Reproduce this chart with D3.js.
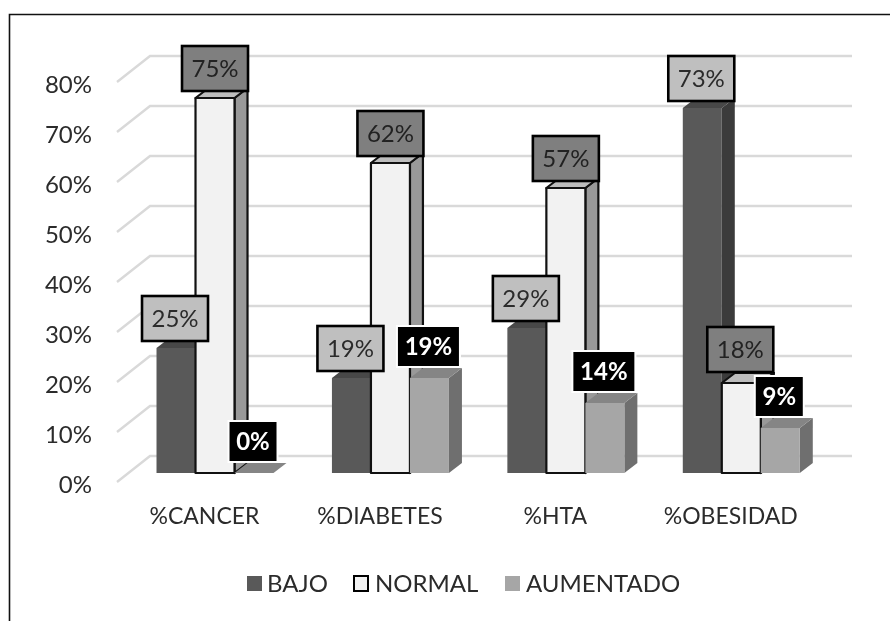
<!DOCTYPE html>
<html><head><meta charset="utf-8">
<script src="https://cdn.jsdelivr.net/npm/d3@7"></script>
<style>html,body{margin:0;padding:0;background:#fff}svg{display:block;filter:blur(.35px)}text{font-family:Lato,"Open Sans",sans-serif}</style>
</head><body><svg id="c" width="890" height="621"></svg>
<script>
const categories = ["%CANCER","%DIABETES","%HTA","%OBESIDAD"];
const seriesNames = ["BAJO","NORMAL","AUMENTADO"];
const bajo = [25,19,29,73];
const normal = [75,62,57,18];
const aumentado = [0,19,14,9];
const yTicks = [0,10,20,30,40,50,60,70,80];

const W=890,H=621,fs=24;
const svg=d3.select("#c");
svg.append("path").attr("fill","none").attr("stroke","#111").attr("stroke-width",1.6)
  .attr("d",`M9.5,${H}L9.5,14.5L${W},14.5`);

const y=d3.scaleLinear().domain([0,80]).range([456,56]);
const x0=d3.scaleBand().domain(categories).range([127.3,829]);
const x1=d3.scaleBand().domain(seriesNames).range([0,117]);
const dx=13,dy=10,front=17,wallX=33,wallY=26;

const styles={
 BAJO:{f:"#595959",t:"#484848",s:"#3b3b3b",st:"none",lf:"#bfbfbf",ls:"#000",lt:"#2b2b2b",fw:400},
 NORMAL:{f:"#f2f2f2",t:"#bdbdbd",s:"#999",st:"#111",lf:"#7f7f7f",ls:"#000",lt:"#222",fw:400},
 AUMENTADO:{f:"#a6a6a6",t:"#858585",s:"#6f6f6f",st:"none",lf:"#000",ls:"#fff",lt:"#fff",fw:700}
};
const values={BAJO:bajo,NORMAL:normal,AUMENTADO:aumentado};

// gridlines with side wall
const grid=svg.append("g").attr("fill","none").attr("stroke","#d9d9d9").attr("stroke-width",2.4);
grid.selectAll("path").data(yTicks).join("path")
  .attr("d",d=>`M${150-wallX},${y(d)+wallY}L150,${y(d)}L852,${y(d)}`);

// y axis labels
svg.append("g").selectAll("text").data(yTicks).join("text")
  .attr("x",92).attr("y",d=>y(d)+wallY+10.5).attr("text-anchor","end")
  .attr("font-size",fs).attr("fill","#2b2b2b").text(d=>d+"%");

// category labels
svg.append("g").selectAll("text").data(categories).join("text")
  .attr("x",d=>x0(d)+x0.step()/2-10.5).attr("y",523.5).attr("text-anchor","middle")
  .attr("font-size",23).attr("fill","#2b2b2b").text(d=>d);

// bars
const barW=x1.bandwidth();
const barsRoot=svg.append("g");
const rows=[];
categories.forEach((c,i)=>seriesNames.forEach(s=>rows.push({c,s,v:values[s][i]})));
rows.forEach(r=>{
  const st=styles[r.s];
  const xl=x0(r.c)+x0.step()/2-58.5+x1(r.s), xr=xl+barW;
  const yb=y(0)+front, yt=y(r.v)+front;
  const g=barsRoot.append("g").attr("stroke",st.st).attr("stroke-width",2.2).attr("stroke-linejoin","round");
  g.append("path").attr("fill",st.s).attr("stroke",r.s==="NORMAL"?"#111":"none")
    .attr("d",`M${xr},${yt}L${xr+dx},${yt-dy}L${xr+dx},${yb-dy}L${xr},${yb}Z`);
  g.append("path").attr("fill",st.t)
    .attr("d",`M${xl},${yt}L${xl+dx},${yt-dy}L${xr+dx},${yt-dy}L${xr},${yt}Z`);
  g.append("rect").attr("x",xl).attr("y",yt).attr("width",barW).attr("height",yb-yt).attr("fill",st.f);
});

// data labels
rows.forEach(r=>{
  const st=styles[r.s];
  const aum=r.s==="AUMENTADO";
  const cx=x0(r.c)+x0.step()/2-58.5+x1(r.s)+barW/2-(r.s==="BAJO"?1:aum?1:r.v<20?1:0);
  const single=String(r.v).length===1;
  const bw=aum?(single?49:63):66, bh=aum?41:45;
  const gap=aum||(r.s==="NORMAL"&&r.v<20)?11:7;
  const yt=y(r.v)+front-gap;
  const g=svg.append("g");
  g.append("rect").attr("x",cx-bw/2).attr("y",yt-bh).attr("width",bw).attr("height",bh)
    .attr("fill",st.lf).attr("stroke",st.ls).attr("stroke-width",aum?2:2.6);
  g.append("text").attr("x",cx).attr("y",yt-bh/2+8.5).attr("text-anchor","middle")
    .attr("font-size",fs).attr("font-weight",st.fw).attr("fill",st.lt).text(r.v+"%");
});

// legend
const legendX=d3.scaleOrdinal().domain(seriesNames).range([247,354,505]);
const lg=svg.append("g").selectAll("g").data(seriesNames).join("g")
  .attr("transform",d=>`translate(${legendX(d)},576)`);
lg.append("rect").attr("width",d=>d==="NORMAL"?14:15).attr("height",15)
  .attr("fill",d=>styles[d].f).attr("stroke",d=>d==="NORMAL"?"#000":"none").attr("stroke-width",2);
lg.append("text").attr("x",d=>d==="BAJO"?20:21).attr("y",15.5).attr("font-size",24).attr("fill","#2b2b2b").text(d=>d);
</script></body></html>
